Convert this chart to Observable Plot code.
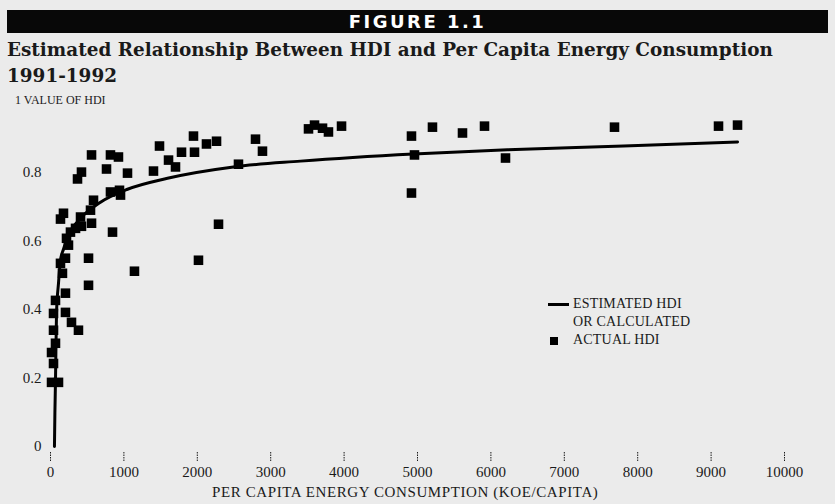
<!DOCTYPE html>
<html>
<head>
<meta charset="utf-8">
<script src="https://cdn.jsdelivr.net/npm/d3@7"></script>
<script src="https://cdn.jsdelivr.net/npm/@observablehq/plot@0.6"></script>
<style>
  html, body { margin: 0; padding: 0; }
  body { width: 835px; height: 504px; background: #ebebeb; position: relative; overflow: hidden; font-family: "Liberation Serif", "DejaVu Serif", serif; color: #1a1a1a; }
  .abs { position: absolute; white-space: nowrap; }
  #banner { left: 7px; top: 10px; width: 821px; height: 23px; background: #080808; color: #fff; text-align: center; font: 900 18px "DejaVu Sans", sans-serif; letter-spacing: 2.5px; line-height: 23px; }
  #title { left: 7px; top: 39px; font: bold 18.4px "DejaVu Serif", serif; }
  #subtitle { left: 7px; top: 65px; font: bold 18.4px "DejaVu Serif", serif; }
  #ylabel { left: 15px; top: 93px; font-size: 12px; }
  #xlabel { left: 212px; top: 484px; font-size: 15px; letter-spacing: 0.6px; }
  #chart { left: 0; top: 88px; }
  #legend { left: 548px; top: 295px; font-size: 14px; line-height: 18px; letter-spacing: 0.2px; }
  .sw-line { display: inline-block; width: 21px; height: 3px; background: #000; vertical-align: middle; margin-right: 4px; }
  .sw-sq { display: inline-block; width: 8px; height: 8px; background: #000; vertical-align: middle; margin-left: 2px; margin-right: 15px; }
  .indent { padding-left: 25px; }
</style>
</head>
<body>
<div id="banner" class="abs">FIGURE 1.1</div>
<div id="title" class="abs">Estimated Relationship Between HDI and Per Capita Energy Consumption</div>
<div id="subtitle" class="abs">1991-1992</div>
<div id="ylabel" class="abs">1 VALUE OF HDI</div>
<div id="chart" class="abs"></div>
<div id="xlabel" class="abs">PER CAPITA ENERGY CONSUMPTION (KOE/CAPITA)</div>
<div id="legend" class="abs">
  <div><span class="sw-line"></span>ESTIMATED HDI</div>
  <div class="indent">OR CALCULATED</div>
  <div><span class="sw-sq"></span>ACTUAL HDI</div>
</div>
<script>
// Actual HDI points (energy consumption KOE/capita, HDI)
const actualEnergy = [
  3515, 3597, 3706, 3787, 3965, 4918, 5204, 5613, 5913, 7684, 9101, 9360, 4959, 6199, 4918,
  1948, 2125, 2262, 2793, 2888, 2561, 1962, 1785, 1608, 1703, 1485, 1403, 1049, 2289, 2016, 1144, 518,
  559, 817, 926, 763, 422, 368, 817, 940, 954, 586, 545, 409, 177, 136, 559, 422, 341, 272, 218, 245, 845,
  518, 204, 136, 163, 204, 68, 41, 204, 286, 381, 41, 68, 14, 41, 14, 109
];
const actualHDI = [
  0.926, 0.937, 0.928, 0.917, 0.934, 0.905, 0.931, 0.914, 0.934, 0.931, 0.934, 0.937, 0.850, 0.841, 0.739,
  0.905, 0.882, 0.890, 0.896, 0.861, 0.823, 0.858, 0.858, 0.835, 0.815, 0.876, 0.803, 0.797, 0.648, 0.543, 0.511, 0.470,
  0.850, 0.850, 0.844, 0.809, 0.800, 0.780, 0.742, 0.747, 0.733, 0.718, 0.689, 0.669, 0.680, 0.663, 0.651, 0.642, 0.636, 0.625, 0.607, 0.587, 0.625,
  0.549, 0.549, 0.534, 0.505, 0.447, 0.426, 0.388, 0.391, 0.362, 0.339, 0.339, 0.301, 0.274, 0.242, 0.187, 0.187
];
// Estimated (calculated) HDI curve
const estEnergy = [54, 60, 68, 82, 109, 136, 177, 232, 409, 681, 1049, 1594, 2493, 3406, 4946, 6226, 7807, 9360];
const estHDI   = [0.0, 0.1, 0.19, 0.39, 0.476, 0.543, 0.575, 0.61, 0.665, 0.712, 0.75, 0.782, 0.815, 0.832, 0.853, 0.865, 0.876, 0.888];

const xTicks = [0, 1000, 2000, 3000, 4000, 5000, 6000, 7000, 8000, 9000, 10000];
const yTicks = [0, 0.2, 0.4, 0.6, 0.8];
const yTickLabels = ["0", "0.2", "0.4", "0.6", "0.8"];

const points = actualEnergy.map((e, i) => ({energy: e, hdi: actualHDI[i]}));
const curve = estEnergy.map((e, i) => ({energy: e, hdi: estHDI[i]}));

const chart = Plot.plot({
  width: 835,
  height: 416,
  marginLeft: 50,
  marginRight: 51,
  marginTop: 15,
  marginBottom: 58,
  style: {background: "transparent", fontFamily: "Liberation Serif, DejaVu Serif, serif", fontSize: "15px", color: "#1a1a1a", overflow: "visible"},
  x: {domain: [0, 10000]},
  y: {domain: [0, 1]},
  marks: [
    Plot.axisX({ticks: xTicks, tickFormat: d => String(d), tickSize: 10, tickPadding: 4, dy: 6, strokeDasharray: "1.5,1", label: null, fontSize: 15}),
    Plot.axisY({ticks: yTicks, tickFormat: d => yTickLabels[yTicks.indexOf(d)], tickSize: 0, tickPadding: 9, label: null, fontSize: 15}),
    Plot.line(curve, {x: "energy", y: "hdi", stroke: "#000", strokeWidth: 3, curve: "monotone-x"}),
    Plot.dot(points, {x: "energy", y: "hdi", symbol: "square", r: 5.4, fill: "#000", stroke: "none"})
  ]
});
document.getElementById("chart").appendChild(chart);
</script>
</body>
</html>
